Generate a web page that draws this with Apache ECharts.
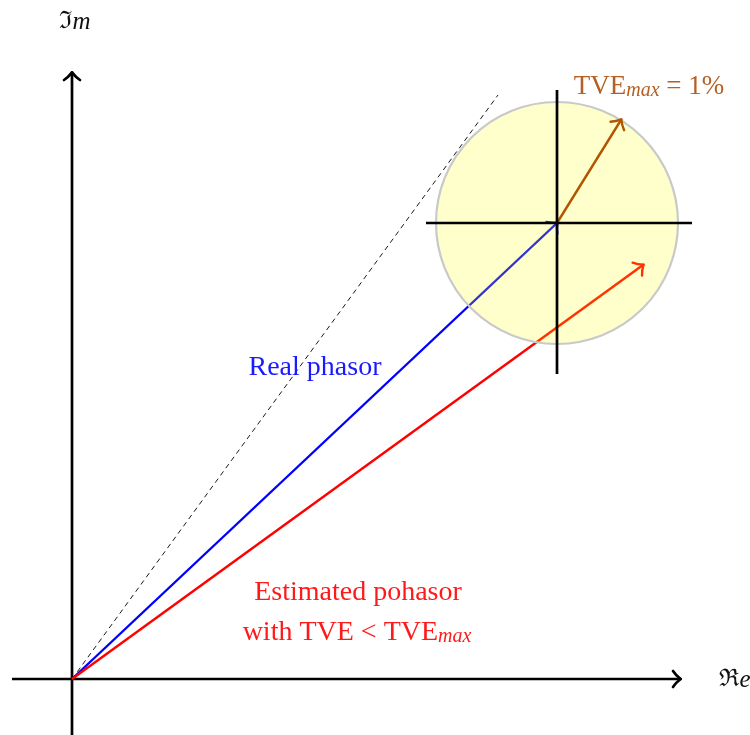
<!DOCTYPE html>
<html>
<head>
<meta charset="utf-8">
<script src="https://cdn.jsdelivr.net/npm/echarts@6/dist/echarts.min.js"></script>
<style>html,body{margin:0;padding:0;background:#fff}#c{width:750px;height:735px}</style>
</head>
<body>
<div id="c"></div>
<script>
// ---- data (diagram units) ----
const axisArrows = [[-0.60, 0, 6.08, 0], [0, -0.56, 0, 6.06]];
const dashedRef = [[0, 0, 4.26, 5.84]];
const realPhasor = [[0, 0, 4.85, 4.56]];
const estPhasor = [[0, 0, 5.71, 4.14]];
const tveVector = [[4.85, 4.56, 5.49, 5.59]];
const tveCircle = [[4.85, 4.56, 1.21]];
const crossLines = [[3.54, 4.56, 6.20, 4.56], [4.85, 5.89, 4.85, 3.05]];
const labelTexts = ['{i|ℑ}{it|m}', '{i|ℜ}{it|e}', 'Real phasor', 'Estimated pohasor',
  'with TVE < TVE{sub|max}', 'TVE{sub|max} = 1%'];
const labelAnchors = [[0.03, 6.57], [6.63, -0.01], [2.43, 3.11], [2.86, 0.86], [2.85, 0.46], [5.77, 5.92]];

const FONT = '"Liberation Serif", "DejaVu Serif", serif';
const labelColors = ['#111', '#111', '#1a1aff', '#ff1a1a', '#ff1a1a', '#b55f22'];
const labelSizes = [27, 27, 28, 28, 28, 27];

function arrowItem(color, width, head) {
  return function (params, api) {
    const p0 = api.coord([api.value(0), api.value(1)]);
    const p1 = api.coord([api.value(2), api.value(3)]);
    const children = [{
      type: 'line',
      shape: { x1: p0[0], y1: p0[1], x2: p1[0], y2: p1[1] },
      style: { stroke: color, lineWidth: width, lineCap: 'butt' }
    }];
    if (head) {
      const dx = p1[0] - p0[0], dy = p1[1] - p0[1];
      const L = Math.hypot(dx, dy);
      const ux = dx / L, uy = dy / L, vx = -uy, vy = ux;
      [1, -1].forEach(function (s) {
        const bx = p1[0] - 7 * ux + s * 8 * vx, by = p1[1] - 7 * uy + s * 8 * vy;
        const cx = p1[0] - 4 * ux + s * 3.5 * vx, cy = p1[1] - 4 * uy + s * 3.5 * vy;
        children.push({
          type: 'bezierCurve',
          shape: { x1: bx, y1: by, cpx1: cx, cpy1: cy, x2: p1[0] + 0.6 * ux, y2: p1[1] + 0.6 * uy },
          style: { stroke: color, fill: null, lineWidth: width, lineCap: 'round' }
        });
      });
    }
    return { type: 'group', children: children };
  };
}

function lineSeries(data, color, width, head, z, dash) {
  return {
    type: 'custom', coordinateSystem: 'cartesian2d', data: data, z: z, silent: true, clip: false,
    renderItem: function (params, api) {
      const g = arrowItem(color, width, head)(params, api);
      if (dash) g.children[0].style.lineDash = dash;
      return g;
    }
  };
}

const chart = echarts.init(document.getElementById('c'), null, { renderer: 'canvas' });
chart.setOption({
  animation: false,
  backgroundColor: '#ffffff',
  grid: { left: 0, right: 0, top: 0, bottom: 0 },
  xAxis: { type: 'value', min: -0.72, max: 6.78, show: false },
  yAxis: { type: 'value', min: -0.56, max: 6.79, show: false },
  series: [
    lineSeries(axisArrows, '#000', 2.7, true, 2),
    lineSeries(dashedRef, '#000', 0.9, false, 3, [5, 4]),
    lineSeries(realPhasor, '#0000ff', 2.4, true, 4),
    lineSeries(estPhasor, '#ff0000', 2.4, true, 4),
    {
      type: 'custom', coordinateSystem: 'cartesian2d', data: tveCircle, z: 6, silent: true, clip: false,
      renderItem: function (params, api) {
        const c = api.coord([api.value(0), api.value(1)]);
        const r = api.size([api.value(2), api.value(2)])[0];
        return { type: 'circle', shape: { cx: c[0], cy: c[1], r: r },
          style: { fill: 'rgba(255,255,0,0.2)', stroke: '#c9c9c9', lineWidth: 2.2 } };
      }
    },
    lineSeries(tveVector, '#b35400', 2.4, true, 7),
    lineSeries(crossLines, '#000', 2.7, false, 8),
    {
      type: 'custom', coordinateSystem: 'cartesian2d', z: 10, silent: true, clip: false,
      data: labelAnchors.map(function (p, i) { return [p[0], p[1], i]; }),
      renderItem: function (params, api) {
        const i = api.value(2);
        const c = api.coord([api.value(0), api.value(1)]);
        const col = labelColors[i];
        return {
          type: 'text',
          style: {
            x: c[0], y: c[1], text: labelTexts[i], fill: col,
            font: labelSizes[i] + 'px ' + FONT, align: 'center', verticalAlign: 'middle',
            rich: {
              sub: { fontSize: 20, fontStyle: 'italic', fontFamily: FONT, fill: col, lineHeight: 14, verticalAlign: 'bottom' },
              i: { fontSize: 24, fontFamily: '"DejaVu Serif", serif', fill: col },
              it: { fontSize: 25, fontStyle: 'italic', fontFamily: FONT, fill: col }
            }
          }
        };
      }
    }
  ]
});
</script>
</body>
</html>
